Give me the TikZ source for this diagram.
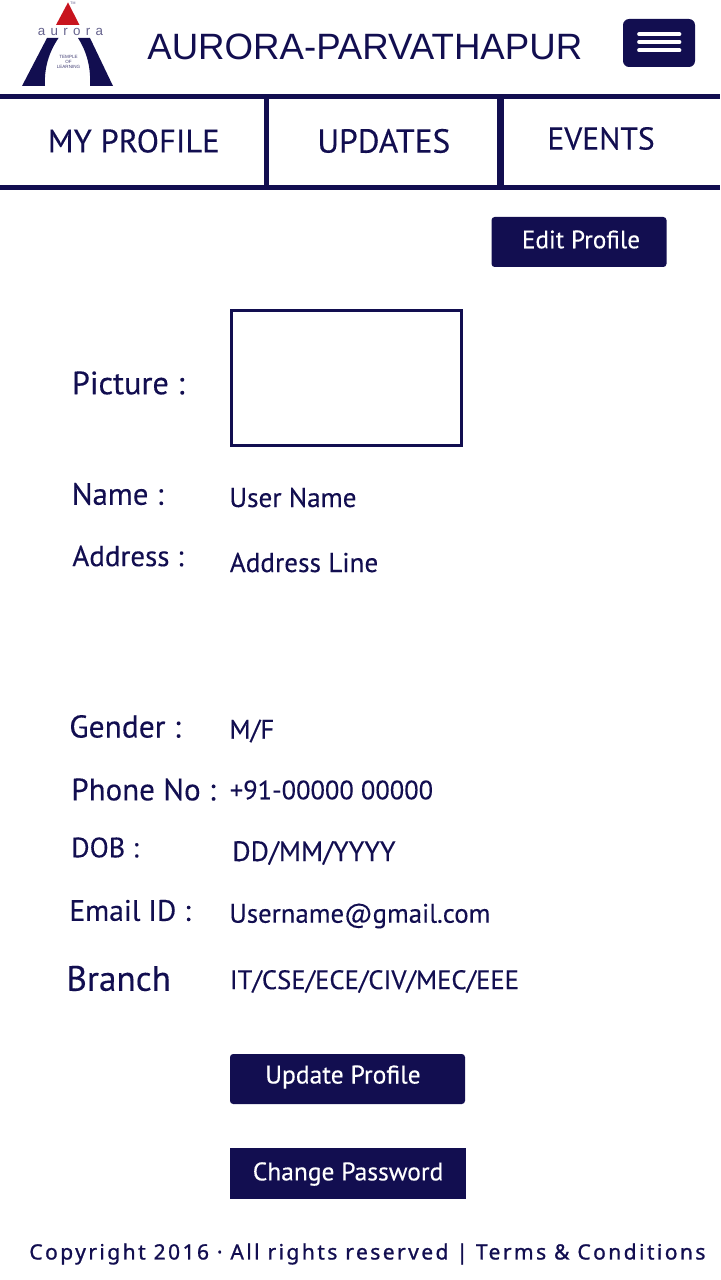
\documentclass[tikz,border=0pt]{standalone}
\usepackage{fontspec}
\setmainfont[FakeBold=0.25]{PT Sans}
\newfontfamily\titlefont{Liberation Sans}
\newfontfamily\footfont[LetterSpace=11.4,FakeBold=1]{Noto Sans}
\newfontfamily\brandfont[LetterSpace=40]{Liberation Sans}
\definecolor{auroranavy}{RGB}{18,14,80}
\definecolor{aurorared}{RGB}{200,20,30}
\newcommand{\pxfont}[1]{\pgfmathsetmacro{\pxsize}{#1*0.569}\fontsize{\pxsize}{\pxsize}\selectfont}
\tikzstyle{field}=[anchor=west,inner sep=0pt,text=auroranavy]
\tikzstyle{navbar}=[draw=auroranavy,line width=2.9pt]
\tikzstyle{button}=[fill=auroranavy,rounded corners=1.8pt]
\tikzstyle{buttontext}=[inner sep=0pt,text=white]

\begin{document}
\begin{tikzpicture}[x=0.02cm,y=-0.02cm]
			\useasboundingbox (0,0) rectangle (720,1280);
			% Logo
			\fill[aurorared] (68,2.5) -- (79.5,25) -- (56,25) -- cycle;
			\fill[auroranavy] (47,38) -- (58.5,38) .. controls (49,52) and (44,68) .. (45,86) -- (22,86) -- cycle;
			\fill[auroranavy] (90,38) -- (78,38) .. controls (87,52) and (91,68) .. (90,86) -- (113,86) -- cycle;
			\node[inner sep=0pt,text=auroranavy!65,font=\brandfont\fontsize{7.6}{8}\selectfont] (brand) at (70.5,32) {aurora};
			\node[inner sep=0pt,text=auroranavy!80,align=center,font=\titlefont\fontsize{2.6}{3.1}\selectfont] (motto) at (68.5,62) {TEMPLE\\OF\\LEARNING};
			\node[inner sep=0pt,text=auroranavy!70,font=\titlefont\fontsize{2}{2}\selectfont] (trademark) at (73,3) {TM};
			% Header
			\node[field,font=\titlefont\fontsize{20.85}{24}\selectfont] (title) at (147,47) {AURORA-PARVATHAPUR};
			\fill[button,rounded corners=3.5pt] (623,19) rectangle (695,67);
			\foreach \bar in {34.2,42,50.3}
				\draw[white,line width=2.1pt,line cap=round] (639,\bar) -- (679.5,\bar);
			% Navigation
			\draw[navbar] (0,96.5) -- (720,96.5);
			\draw[navbar] (0,187.5) -- (720,187.5);
			\draw[navbar,line width=3.4pt] (266.5,96) -- (266.5,187);
			\draw[navbar,line width=3.7pt] (500.5,96) -- (500.5,187);
			\node[field,font=\pxfont{32.6}] (profile) at (47.5,141) {MY PROFILE};
			\node[field,font=\pxfont{33.4}] (updates) at (317,141) {UPDATES};
			\node[field,font=\pxfont{31.6}] (events) at (547,138.5) {EVENTS};
			% Edit button
			\fill[button] (491.5,217) rectangle (666.5,267);
			\node[buttontext,font=\pxfont{25.2}] (edit) at (581,239.5) {Edit Profile};
			% Picture box
			\draw[auroranavy,line width=1.7pt] (231.5,310.5) rectangle (461.5,445.5);
			% Labels and values
			\foreach \name/\px/\py/\size/\txt in {
				picture/71.5/383/32.3/{Picture :},
				name/71.5/494/30.8/{Name :},
				address/72/556/29/{Address :},
				gender/69/726.5/31.5/{Gender :},
				phone/71/789.5/31/{Phone No :},
				dob/71/847.5/28/{DOB :},
				email/69/910.5/29.6/{Email ID :},
				branch/66/978.5/35.3/{Branch}}
				\node[field,font=\pxfont{\size}] (\name) at (\px,\py) {\txt};
			\foreach \name/\px/\py/\size/\txt in {
				username/229/497.5/27.2/{User Name},
				addressline/229.5/562.5/27.2/{Address Line},
				sex/229/731/27/{M/F},
				number/229.5/790/26.5/{+91-00000 00000},
				birth/232/853/28/{DD/MM/YYYY},
				mail/229/916/26.8/{Username@gmail.com},
				dept/229.5/981.5/26.7/{IT/CSE/ECE/CIV/MEC/EEE}}
				\node[field,font=\pxfont{\size}] (\name) at (\px,\py) {\txt};
			% Lower buttons
			\fill[button] (230,1054) rectangle (465,1104);
			\node[buttontext,font=\pxfont{25.6}] (update) at (343,1077) {Update Profile};
			\fill[auroranavy] (230,1148) rectangle (466,1199);
			\node[buttontext,font=\pxfont{25.5}] (password) at (348,1174) {Change Password};
			% Footer
			\node[field,font=\footfont\fontsize{12}{14}\selectfont] (footer) at (29,1254) {Copyright 2016 · All rights reserved | Terms \& Conditions};
		\end{tikzpicture}
\end{document}
